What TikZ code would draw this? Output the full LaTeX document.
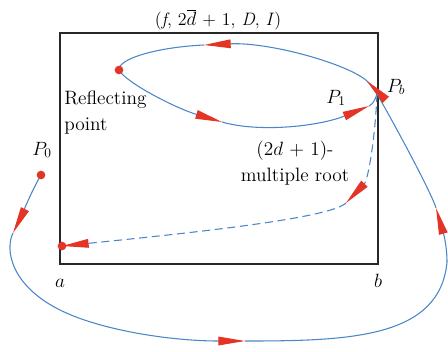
\documentclass[tikz,border=0pt]{standalone}
\usetikzlibrary{arrows.meta}

\tikzset{
  flowline/.style={draw=curvecolor, line width=0.8pt},
  dashline/.style={flowline, dash pattern=on 6pt off 3.5pt},
  redtri/.tip={Triangle[length=20pt, width=6.5pt, color=tipcolor]},
  enddot/.style={circle, fill=tipcolor, inner sep=0pt, minimum size=6.5pt},
  lbl/.style={font=\fontsize{14.5}{19.5}\selectfont, inner sep=0pt},
}

\begin{document}
\begin{tikzpicture}[x=0.75pt, y=-0.75pt]

\definecolor{curvecolor}{RGB}{74, 134, 200}
\definecolor{tipcolor}{RGB}{228, 52, 38}
\definecolor{framecolor}{RGB}{40, 40, 40}

\useasboundingbox (0,0) rectangle (448,351);

\draw[framecolor, line width=1pt] (60,33) rectangle (378,264);

% points of the orbit
\coordinate (Pb) at (377,94);
\coordinate (R) at (119,70);
\coordinate (P0) at (41,175);
\coordinate (A) at (62,246);
\coordinate (m1) at (60,310);
\coordinate (m2) at (447,262);
\coordinate (tb) at (386,100);
% arrow tips
\coordinate (t1) at (13,233);
\coordinate (t2) at (245,341);
\coordinate (t3) at (436,208);
\coordinate (t4) at (367,81);
\coordinate (t5) at (204,45);
\coordinate (t6) at (222,122);
\coordinate (t7) at (369,106);
\coordinate (t8) at (346,203);

% outer orbit from P0
\draw[flowline, -redtri] (P0) .. controls (32,190) and (19,221) .. (t1);
\draw[flowline] (t1) .. controls (5,249) and (10,285) .. (m1);
\draw[flowline, -redtri] (m1) .. controls (100,330) and (170,341) .. (t2);
\draw[flowline] (t2) .. controls (350,341) and (440,338) .. (m2);
\draw[flowline, -redtri] (m2) .. controls (447,240) and (440,222) .. (t3);
\draw[flowline] (t3) .. controls (432,194) and (395,125) .. (Pb);

% loop through the reflecting point
\draw[flowline] (Pb) .. controls (374,90) and (371,85) .. (t4);
\draw[flowline, -redtri] (t4) .. controls (348,64) and (270,42) .. (t5);
\draw[flowline] (t5) .. controls (160,47) and (118,58) .. (R);
\draw[flowline, -redtri] (R) .. controls (125,82) and (175,108) .. (t6);
\draw[flowline, -redtri] (t6) .. controls (260,133) and (320,126) .. (t7);
\draw[flowline] (t7) .. controls (373,104) and (375,100) .. (Pb);
\draw[tipcolor, line width=0.4pt, -redtri] (tb) -- (t4);

% dashed branch to a
\draw[dashline, -redtri] (Pb) .. controls (375,140) and (368,180) .. (t8);
\draw[dashline, -redtri] (t8) .. controls (330,218) and (200,232) .. (A);

\node[enddot] (Rdot) at (R) {};
\node[enddot] (P0dot) at (P0) {};
\node[enddot] (Adot) at (A) {};

\node[lbl, font=\fontsize{13.5}{16}\selectfont, anchor=base] (title) at (218,25)
  {(\textit{f}, 2$\overline{d}$ + 1, \textit{D}, \textit{I})};
\node[lbl, anchor=north west, align=left] (refl) at (64,91) {Reflecting\\point};
\node[lbl, anchor=north, align=center] (root) at (295,140.5) {(2$d$ + 1)-\\multiple root};
\node[lbl, anchor=base] (lP1) at (336,103) {$P_1$};
\node[lbl, anchor=base] (lPb) at (396,92) {$P_b$};
\node[lbl, anchor=base] (lP0) at (42,155) {$P_0$};
\node[lbl, anchor=base] (la) at (60,287) {$a$};
\node[lbl, anchor=base] (lb) at (378,287) {$b$};

\end{tikzpicture}
\end{document}
